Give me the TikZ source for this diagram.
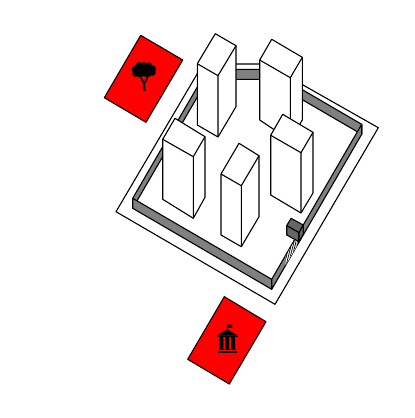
\documentclass[tikz,border=0pt]{standalone}
\begin{document}
\begin{tikzpicture}[x=1pt,y=-1pt,
  edge/.style={draw=black,line width=1.1pt,line join=round},
  bld/.style={edge,fill=white},
  wall/.style={edge,fill=black!50},
  lot/.style={edge,fill=red}]
\useasboundingbox (0,0) rectangle (415,418);
% plot boundary
\draw[edge] (116,211.7) -- (203,64) -- (266,64) -- (378.3,127.7) -- (275,304.3) -- cycle;
% far walls
\draw[wall] (132.7,198.3) -- (207.6,69.3) -- (267.3,69.3) -- (361.7,124.3) -- (361.7,134.3) -- (267.3,79.3) -- (207.6,79.3) -- (132.7,208.3) -- cycle;
% near walls
\draw[wall] (132.7,198.3) -- (271.7,279.3) -- (271.7,289.3) -- (132.7,208.3) -- cycle;
\draw[wall] (271.7,279.3) -- (361.7,124.3) -- (361.7,134.3) -- (271.7,289.3) -- cycle;
% gate
\begin{scope}
\clip (285.5,255.4) -- (296.5,236.4) -- (296.5,246.4) -- (285.5,265.4) -- cycle;
\fill[white] (280,230) rectangle (300,270);
\foreach \x in {276,279.5,...,300}
  \draw[line width=0.75pt] (\x,{289.3-1.722*(\x-271.7)}) -- ++(6,-24);
\end{scope}
\draw[line width=0.7pt] (285.5,255.4) -- (296.5,236.4);
\draw[wall,fill=black!60] (286.7,225.7) -- (291,218.3) -- (303.3,225) -- (299,232.7) -- cycle;
\draw[wall,fill=black!60] (286.7,225.7) -- (299,232.7) -- (299,241.7) -- (286.7,235) -- cycle;
\draw[wall,fill=black!60] (299,232.7) -- (303.3,225) -- (303.3,234) -- (299,241.7) -- cycle;
% buildings
\draw[bld] (259.7,60) -- (271.7,39.3) -- (302.3,57.3) -- (302.3,120) -- (290.3,140.5) -- (259.7,120) -- cycle;
\draw[edge] (259.7,60) -- (290.3,77.7) -- (302.3,57.3) (290.3,77.7) -- (290.3,140.5);
\draw[bld] (197.3,63.7) -- (215.3,33.7) -- (236,45.7) -- (236,106.7) -- (218,137) -- (197.3,125) -- cycle;
\draw[edge] (197.3,63.7) -- (218,75.7) -- (236,45.7) (218,75.7) -- (218,137);
\draw[bld] (162.7,139.3) -- (175,118.3) -- (205,136.7) -- (205,197.3) -- (193.3,218.3) -- (162.7,199.3) -- cycle;
\draw[edge] (162.7,139.3) -- (193.3,156.7) -- (205,136.7) (193.3,156.7) -- (193.3,218.3);
\draw[bld] (221,174) -- (239,143.3) -- (259,155.7) -- (259,216.7) -- (241.3,246.7) -- (221,235) -- cycle;
\draw[edge] (221,174) -- (241.3,185.7) -- (259,155.7) (241.3,185.7) -- (241.3,246.7);
\draw[bld] (270.7,135.3) -- (282.7,114.3) -- (313,132.3) -- (313,193) -- (301,213) -- (270.7,195) -- cycle;
\draw[edge] (270.7,135.3) -- (301,152.7) -- (313,132.3) (301,152.7) -- (301,213);
% lots
\draw[lot] (140.7,35.3) -- (182.7,60) -- (146,122.3) -- (104.3,97.7) -- cycle;
\draw[lot] (224.3,296.7) -- (266,321.7) -- (229.3,384) -- (187.7,359.3) -- cycle;
% tree
\fill (139,65.5) circle (3.5) (144,65.8) circle (3.8) (149,65.8) circle (3.5) (152,69) circle (4) (135.5,69.5) circle (3.8) (140,72) circle (5.5) (147,72) circle (5.5) (152.5,72.5) circle (3.3) (135.5,73.5) circle (3.3);
\fill (143,90.8) -- (145.6,90.8) -- (145,84) -- (148.3,78) -- (146.8,77.5) -- (144.3,81.5) -- (141.7,77.5) -- (140.2,78) -- (143.4,84) -- cycle;
% bank
\fill (227.3,329.3) -- (237.5,335.5) -- (217,335.5) -- cycle;
\fill (217,335.5) rectangle (237.5,337);
\fill (219.5,337) rectangle (223.3,349) (225.4,337) rectangle (229,349) (231,337) rectangle (235,349);
\fill (218.5,349) rectangle (236,350);
\fill (217.5,351) rectangle (237,352.8);
\fill (226.9,324.5) rectangle (227.8,330);
\fill (227.8,324.3) -- (233,325) -- (231.3,326.2) -- (233,327.7) -- (227.8,327.7) -- cycle;
\end{tikzpicture}
\end{document}
